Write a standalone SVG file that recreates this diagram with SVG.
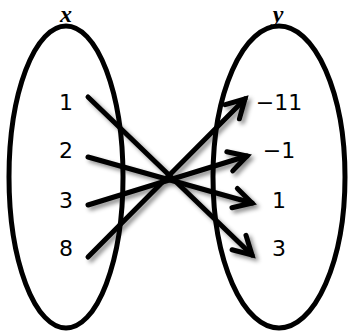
<svg xmlns="http://www.w3.org/2000/svg" width="348" height="335" viewBox="0 0 348 335">
<style>
.set{fill:none;stroke:#000;stroke-width:5}
.num{font-family:"DejaVu Sans","Verdana",sans-serif;font-size:22px;fill:#000;text-anchor:middle}
.lab{font-family:"Liberation Serif",serif;font-style:italic;font-weight:bold;font-size:24px;fill:#000;text-anchor:middle}
.con{fill:none;stroke:#000;stroke-width:5;stroke-linecap:round}
</style>
<defs>
<filter id="sh" x="-20%" y="-20%" width="140%" height="140%">
<feDropShadow dx="3" dy="3" stdDeviation="2" flood-color="#000" flood-opacity="0.45"/>
</filter>
<marker id="ah" markerUnits="userSpaceOnUse" markerWidth="30" markerHeight="30" viewBox="-24 -15 30 30" refX="0" refY="0" orient="auto">
<path d="M-18,-10 L0,0 L-18,10" fill="none" stroke="#000" stroke-width="5" stroke-linecap="round" stroke-linejoin="miter"/>
</marker>
</defs>
<g id="setX">
<ellipse class="set" cx="66" cy="177" rx="57" ry="151"/>
<text class="lab" x="66" y="22">x</text>
</g>
<g id="setY">
<ellipse class="set" cx="279" cy="177" rx="66" ry="151"/>
<text class="lab" x="278" y="22">y</text>
</g>
<g id="x1"><text class="num" x="66" y="110">1</text></g>
<g id="x2"><text class="num" x="66" y="158">2</text></g>
<g id="x3"><text class="num" x="66" y="208">3</text></g>
<g id="x8"><text class="num" x="66" y="256">8</text></g>
<g id="ym11"><text class="num" x="279" y="110">−11</text></g>
<g id="ym1"><text class="num" x="279" y="158">−1</text></g>
<g id="y1"><text class="num" x="279" y="208">1</text></g>
<g id="y3"><text class="num" x="279" y="256">3</text></g>
<g id="connectors" filter="url(#sh)">
<line class="con" x1="88" y1="97" x2="252" y2="255" marker-end="url(#ah)"/>
<line class="con" x1="88" y1="157" x2="252" y2="203" marker-end="url(#ah)"/>
<line class="con" x1="88" y1="205" x2="247" y2="156" marker-end="url(#ah)"/>
<line class="con" x1="88" y1="257" x2="245" y2="99" marker-end="url(#ah)"/>
</g>
</svg>
